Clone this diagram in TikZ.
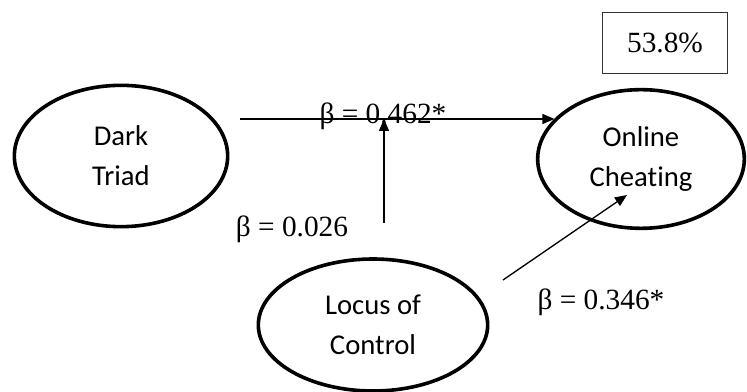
\documentclass[tikz,border=0pt]{standalone}
\usepackage{fontspec}
\setmainfont{Liberation Serif}
\newfontfamily\calibri[Ligatures=NoCommon]{Carlito}
\usepackage{xcolor}
\usepackage{tikz}
\usetikzlibrary{shapes.geometric,arrows.meta}
\definecolor{inkc}{HTML}{000000}
\definecolor{boxc}{HTML}{333333}

\begin{document}
\begin{tikzpicture}[x=0.75pt,y=0.75pt,
  latent/.style={ellipse,draw=inkc,line width=2.7pt,align=center,
    font=\calibri\fontsize{21.5}{30}\selectfont},
  coef/.style={font=\fontsize{22}{26}\selectfont,inner sep=0pt,anchor=base},
  path/.style={draw=inkc,line width=1pt,-{Triangle[length=9pt,width=7.5pt]}}]
  \useasboundingbox (0,0) rectangle (747,392);
  % latent variables (pixel grid, y up)
  \node[latent,minimum width=160pt,minimum height=106pt] (dt) at (121,236) {Dark\\Triad};
  \node[latent,minimum width=155pt,minimum height=104pt] (oc) at (641,233) {Online\\Cheating};
  \node[latent,minimum width=172pt,minimum height=99pt] (loc) at (373,67) {Locus of\\Control};
  \node[draw=boxc,line width=0.7pt,minimum width=94pt,minimum height=46pt,
    font=\fontsize{22}{26}\selectfont] (rsq) at (665,349) {53.8\%};
  % free ends of the paths
  \coordinate (dtout) at (240,273);
  \coordinate (locup) at (384,169);
  \coordinate (lcout) at (503,112);
  \coordinate (octip) at (627,197);
  \draw[path] (dtout) -- (oc.155 |- dtout);
  \draw[path] (locup) -- (locup |- dtout);
  \draw[path] (lcout) -- (octip);
  \node[coef] (b1) at (383,268) {β = 0.462*};
  \node[coef] (b2) at (292,155) {β = 0.026};
  \node[coef] (b3) at (601,82) {β = 0.346*};
\end{tikzpicture}
\end{document}
